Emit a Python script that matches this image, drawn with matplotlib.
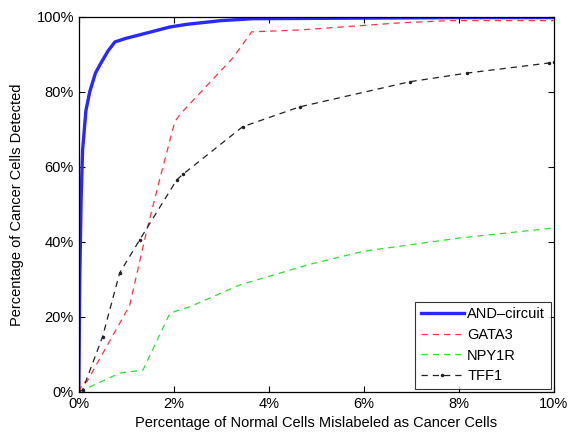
import matplotlib
matplotlib.use('Agg')
import matplotlib.pyplot as plt
from matplotlib.ticker import FuncFormatter

plt.rcParams['font.family'] = ['Liberation Sans', 'DejaVu Sans']

# ROC-style data: x = % normal cells mislabeled, y = % cancer cells detected
and_x = [0, 0.02, 0.05, 0.08, 0.15, 0.23, 0.35, 0.48, 0.62, 0.76, 1.0, 1.22, 1.92, 2.27, 3.0, 3.66, 5.0, 8.0, 10.0]
and_y = [0, 30, 52, 64.5, 75, 80, 85, 88, 91, 93.3, 94.3, 95, 97.3, 98, 99, 99.5, 99.6, 99.8, 99.8]

gata_x = [0, 0.1, 0.17, 1.07, 1.43, 1.7, 2.02, 2.13, 3.24, 3.64, 4.65, 6.76, 7.8, 10.0]
gata_y = [0, 2.5, 2.7, 23, 43, 56.5, 72, 74, 89, 96, 96.5, 98.4, 99, 99]

npy_x = [0, 0.23, 0.86, 1.35, 1.92, 2.34, 3.39, 4.86, 6.0, 8.0, 10.0]
npy_y = [0, 1.3, 5, 5.8, 21, 22.7, 28.5, 34, 37.5, 41, 43.7]

tff_x = [0, 0.08, 0.5, 0.86, 1.28, 2.06, 2.19, 3.45, 4.65, 6.97, 8.17, 9.9, 10.0]
tff_y = [0, 0.5, 14.7, 31.7, 40.5, 56.5, 58, 70.7, 76, 82.7, 85, 87.7, 88]

xticks = [0, 2, 4, 6, 8, 10]
yticks = [0, 20, 40, 60, 80, 100]

fig = plt.figure(figsize=(5.71, 4.32), dpi=100)
ax = fig.add_axes([0.138, 0.093, 0.832, 0.868])

ax.plot(and_x, and_y, color='#2828ff', lw=2.4, label='AND\u2013circuit')
ax.plot(gata_x, gata_y, color='#ff3040', lw=0.9, ls=(0, (5, 4)), label='GATA3')
ax.plot(npy_x, npy_y, color='#30e030', lw=0.9, ls=(0, (5, 4)), label='NPY1R')
ax.plot(tff_x, tff_y, color='#202020', lw=0.9, ls=(0, (5, 4)), marker='.',
        markersize=3, label='TFF1')

ax.set_xlim(0, 10)
ax.set_ylim(0, 100)
ax.set_xticks(xticks)
ax.set_yticks(yticks)
ax.xaxis.set_major_formatter(FuncFormatter(lambda v, p: '%d%%' % v))
ax.yaxis.set_major_formatter(FuncFormatter(lambda v, p: '%d%%' % v))
ax.tick_params(direction='in', top=True, right=True, labelsize=10.5, length=4)
for s in ax.spines.values():
    s.set_linewidth(0.9)

ax.set_xlabel('Percentage of Normal Cells Mislabeled as Cancer Cells', fontsize=10.5, labelpad=4)
ax.set_ylabel('Percentage of Cancer Cells Detected', fontsize=10.5, labelpad=9)

leg = ax.legend(loc='lower right', fontsize=10.5, fancybox=False, edgecolor='black',
                handlelength=3.0, handletextpad=0.2, borderpad=0.4, labelspacing=0.45,
                borderaxespad=0.2)
leg.get_frame().set_linewidth(0.8)

fig.savefig('out.png', dpi=100)
